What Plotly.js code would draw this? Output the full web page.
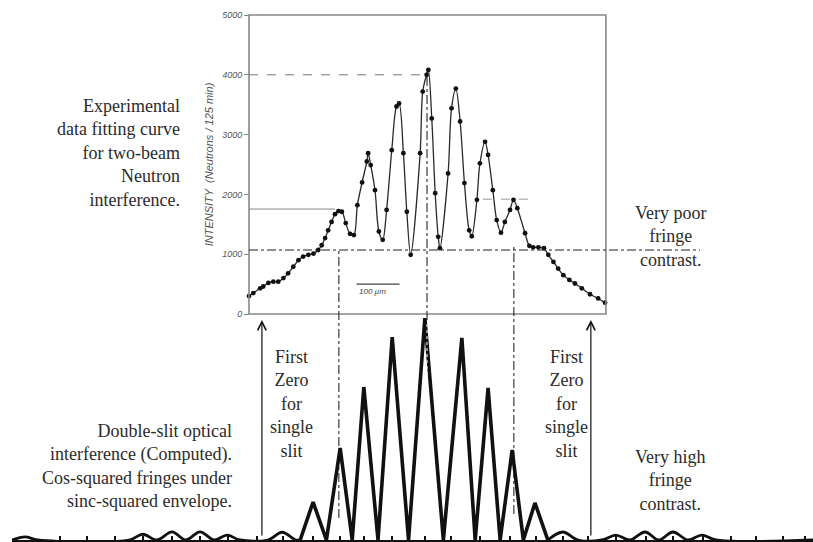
<!DOCTYPE html>
<html>
<head>
<meta charset="utf-8">
<script src="https://cdn.plot.ly/plotly-3.0.1.min.js"></script>
<style>html,body{margin:0;padding:0;background:#fff;}#chart{width:813px;height:542px;}</style>
</head>
<body>
<div id="chart"></div>
<script>
// ---------- DATA ----------
// Experimental neutron data (position in µm from left edge of frame, intensity in neutrons / 125 min)
const topX = [0,10,26,33,45,56.5,68,80,91,103,115,126,138,150,161,169,177,184,192,200,208,216,225,235,244,252,263,274,277,283,293,302,311,320,332,343,349,359,367,376,398,404,413,417,425,433,440,444,463,471,481,491,501,512,518,530,537,549,556,567,576,586,595,607,615,624,642,652,661,673,686,696,708,719,731,745,758,774,793,812,828];
const topY = [300,350,430,460,520,540,540,600,680,790,900,960,990,1010,1070,1150,1270,1400,1540,1670,1720,1710,1520,1340,1320,1820,2200,2550,2690,2490,2070,1380,1240,1740,2740,3470,3520,2690,1710,990,2690,3720,4000,4080,3270,2020,1290,1100,2350,3440,3770,3220,2190,1400,1300,1910,2520,2880,2660,2070,1570,1360,1540,1740,1910,1770,1350,1140,1115,1115,1100,990,870,760,650,570,510,430,330,260,190];
const yTicks = [0,1000,2000,3000,4000,5000];
const yTickText = ['0','1000','2000','3000','4000','5000'];

// Computed double-slit pattern (same position scale, relative intensity)
const bottomMainX = [119,149,180,212,240,267,300,333,371,409,452,495,526,556,584,612,638,665,695];
const bottomMainY = [0,0.171,0,0.414,0,0.689,0,0.914,0,1,0,0.91,0,0.685,0,0.405,0,0.167,0];
const bottomLeftX = [-551,-521,-491,-279,-247,-214,-179,-147,-114,-81,-51,-21,44,77,109,119];
const bottomLeftY = [0,0.014,0,0,0.026,0,0.037,0,0.037,0,0.022,0,0,0.035,0,0];
const bottomRightX = [695,730,765,821,853,886,921,953,986,1021,1053,1086,1312];
const bottomRightY = [0,0.036,0,0,0.022,0,0.036,0,0.036,0,0.022,0,0];
const bottomTicks = [-440,-377,-312,-247,-179,-114,-49,19,79,149,212,267,333,409,470,537,607,667,730,788,853,923,986,1056,1121,1179,1242,1293];

// Guide levels (top panel)
const peakLevel = 4000, firstSideLevel = 1755, rightSideLevel = 1920, poorContrastLevel = 1070;

// ---------- LAYOUT ----------
const W = 813, H = 542;
const py = p => 1 - p / H;
const topDom = [py(314), py(15)];
const botDom = [py(540), py(318)];

const serif = {family: 'Liberation Serif, Times New Roman, serif', size: 18, color: '#2b2b2b'};

const traces = [
  {x: topX, y: topY, xaxis: 'x', yaxis: 'y', mode: 'lines+markers', type: 'scatter',
   line: {shape: 'spline', smoothing: 0.9, color: '#2a2a2a', width: 1.3},
   marker: {size: 4.8, color: '#111'}, hoverinfo: 'skip'},
  {x: bottomLeftX, y: bottomLeftY, xaxis: 'x', yaxis: 'y2', mode: 'lines', type: 'scatter',
   line: {shape: 'spline', smoothing: 1, color: '#111', width: 2.8}, hoverinfo: 'skip'},
  {x: bottomMainX, y: bottomMainY, xaxis: 'x', yaxis: 'y2', mode: 'lines', type: 'scatter',
   line: {shape: 'linear', color: '#111', width: 3.6}, hoverinfo: 'skip'},
  {x: bottomRightX, y: bottomRightY, xaxis: 'x', yaxis: 'y2', mode: 'lines', type: 'scatter',
   line: {shape: 'spline', smoothing: 1, color: '#111', width: 2.8}, hoverinfo: 'skip'}
];

const shapes = [
  // frame of experimental plot
  {type: 'rect', xref: 'x', yref: 'paper', x0: 0, x1: 830, y0: topDom[0], y1: topDom[1], line: {color: '#888', width: 1.6}},
  {type: 'line', xref: 'x', yref: 'y', x0: 0, x1: 417, y0: peakLevel, y1: peakLevel, line: {color: '#777', width: 1, dash: 'dash'}},
  {type: 'line', xref: 'x', yref: 'y', x0: 0, x1: 200, y0: firstSideLevel, y1: firstSideLevel, line: {color: '#888', width: 1}},
  {type: 'line', xref: 'x', yref: 'y', x0: 544, x1: 660, y0: rightSideLevel, y1: rightSideLevel, line: {color: '#999', width: 1, dash: 'dash'}},
  {type: 'line', xref: 'x', yref: 'y', x0: 0, x1: 1049, y0: poorContrastLevel, y1: poorContrastLevel, line: {color: '#222', width: 1.2, dash: 'dashdot'}},
  // 100 µm scale bar
  {type: 'line', xref: 'x', yref: 'y', x0: 250, x1: 350, y0: 500, y1: 500, line: {color: '#444', width: 1.2}},
  // vertical alignment lines
  {type: 'line', xref: 'x', yref: 'paper', x0: 209, x1: 209, y0: py(518), y1: py(251), line: {color: '#111', width: 1, dash: 'dashdot'}},
  {type: 'line', xref: 'x', yref: 'paper', x0: 414, x1: 414, y0: py(320), y1: py(72), line: {color: '#111', width: 1, dash: 'dashdot'}},
  {type: 'line', xref: 'x', yref: 'paper', x0: 616, x1: 616, y0: py(514), y1: py(245), line: {color: '#111', width: 1, dash: 'dashdot'}},
  {type: 'line', xref: 'x', yref: 'paper', x0: 414, x1: 414, y0: py(387), y1: py(322), layer: 'above', line: {color: '#fff', width: 1, dash: 'dot'}}
];

const annotations = [
  {xref: 'paper', yref: 'paper', x: 182 / W, y: py(153), xanchor: 'right', yanchor: 'middle', align: 'right', showarrow: false, font: serif,
   text: 'Experimental<br>data fitting curve<br>for two-beam<br>Neutron<br>interference.'},
  {xref: 'paper', yref: 'paper', x: 670 / W, y: py(236), xanchor: 'center', yanchor: 'middle', align: 'center', showarrow: false, font: serif,
   text: 'Very poor<br>fringe<br>contrast.'},
  {xref: 'paper', yref: 'paper', x: 291 / W, y: py(404), xanchor: 'center', yanchor: 'middle', align: 'center', showarrow: false, font: serif,
   text: 'First<br>Zero<br>for<br>single<br>slit'},
  {xref: 'paper', yref: 'paper', x: 566 / W, y: py(404), xanchor: 'center', yanchor: 'middle', align: 'center', showarrow: false, font: serif,
   text: 'First<br>Zero<br>for<br>single<br>slit'},
  {xref: 'paper', yref: 'paper', x: 234 / W, y: py(466), xanchor: 'right', yanchor: 'middle', align: 'right', showarrow: false, font: serif,
   text: 'Double-slit optical<br>interference (Computed).<br>Cos-squared fringes under<br>sinc-squared envelope.'},
  {xref: 'paper', yref: 'paper', x: 670 / W, y: py(480), xanchor: 'center', yanchor: 'middle', align: 'center', showarrow: false, font: serif,
   text: 'Very high<br>fringe<br>contrast.'},
  {xref: 'x', yref: 'y', x: 252, y: 370, xanchor: 'left', yanchor: 'middle', showarrow: false,
   font: {family: 'Liberation Sans, Arial, sans-serif', size: 8, color: '#444', style: 'italic'}, text: '100 µm'},
  // arrows marking first zero of single slit
  {xref: 'x', yref: 'paper', x: 30, y: py(320), ax: 0, ay: 217, text: '', showarrow: true, arrowhead: 5, arrowsize: 1.4, arrowwidth: 1.2, arrowcolor: '#111'},
  {xref: 'x', yref: 'paper', x: 795, y: py(320), ax: 0, ay: 217, text: '', showarrow: true, arrowhead: 5, arrowsize: 1.4, arrowwidth: 1.2, arrowcolor: '#111'}
];

const layout = {
  width: W, height: H,
  margin: {l: 0, r: 0, t: 0, b: 0},
  paper_bgcolor: '#fff', plot_bgcolor: 'rgba(0,0,0,0)',
  showlegend: false,
  xaxis: {domain: [12 / W, 1], range: [-551.2, 1311.6], anchor: 'y2', showgrid: false, zeroline: false,
          showline: true, linecolor: '#111', linewidth: 3, ticks: 'inside', ticklen: 4, tickwidth: 1.5, tickcolor: '#111',
          tickmode: 'array', tickvals: bottomTicks, showticklabels: false, fixedrange: true},
  yaxis: {domain: topDom, range: [0, 5000], anchor: 'free', position: 249 / W, showgrid: false, zeroline: false, showline: false,
          ticks: 'outside', ticklen: 5, tickwidth: 1, tickcolor: '#888', tickmode: 'array', tickvals: yTicks, ticktext: yTickText,
          tickfont: {family: 'Liberation Sans Narrow, Liberation Sans, Arial, sans-serif', size: 9, color: '#555', style: 'italic'},
          title: {text: 'INTENSITY  (Neutrons / 125 min)', standoff: 4,
                  font: {family: 'Liberation Sans, Arial, sans-serif', size: 11, color: '#555', style: 'italic'}},
          fixedrange: true},
  yaxis2: {domain: botDom, range: [0, 1], anchor: 'x', showgrid: false, zeroline: false, showline: false, ticks: '', showticklabels: false, fixedrange: true},
  shapes: shapes,
  annotations: annotations
};

Plotly.newPlot('chart', traces, layout, {displayModeBar: false, staticPlot: true});
</script>
</body>
</html>
